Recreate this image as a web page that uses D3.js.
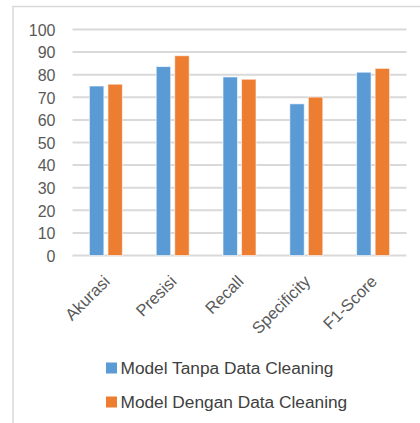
<!DOCTYPE html>
<html>
<head>
<meta charset="utf-8">
<script src="https://cdn.jsdelivr.net/npm/d3@7"></script>
<style>
  html, body { margin: 0; padding: 0; background: #ffffff; }
  svg { display: block; }
</style>
</head>
<body>
<svg id="chart" width="420" height="423"></svg>
<script>
// Metric names along the x axis
const categories = ["Akurasi", "Presisi", "Recall", "Specificity", "F1-Score"];
// Series names and values (percent)
const seriesNames = ["Model Tanpa Data Cleaning", "Model Dengan Data Cleaning"];
const tanpaCleaning = [75.0, 83.6, 79.0, 67.1, 81.1];
const denganCleaning = [75.8, 88.4, 78.0, 70.1, 82.8];
const seriesColors = ["#5b9bd5", "#ed7d31"];
// y axis ticks
const yTicks = [0, 10, 20, 30, 40, 50, 60, 70, 80, 90, 100];

const FONT = "'Liberation Sans', 'DejaVu Sans', sans-serif";
const svg = d3.select("#chart");

// Chart frame (left and top edges)
svg.append("path")
  .attr("d", "M13,423 V6.5 H420")
  .attr("fill", "none")
  .attr("stroke", "#d9d9d9")
  .attr("stroke-width", 1.5);

const plot = { left: 72.5, right: 406.5, top: 29.5, bottom: 255.5 };

const x = d3.scaleBand()
  .domain(categories)
  .range([plot.left, plot.right]);

const x1 = d3.scaleBand()
  .domain(d3.range(seriesNames.length))
  .range([0, 33])
  .paddingInner(0.22);

const y = d3.scaleLinear()
  .domain([0, 100])
  .range([plot.bottom, plot.top]);

// Gridlines
svg.append("g")
  .selectAll("line")
  .data(yTicks)
  .join("line")
  .attr("x1", plot.left)
  .attr("x2", plot.right)
  .attr("y1", d => y(d))
  .attr("y2", d => y(d))
  .attr("stroke", "#d9d9d9")
  .attr("stroke-width", 2);

// y axis labels
const yAxis = d3.axisLeft(y).tickValues(yTicks).tickSize(0).tickPadding(0);
svg.append("g")
  .attr("transform", `translate(55.5,0)`)
  .call(yAxis)
  .call(g => g.select(".domain").remove())
  .call(g => g.selectAll("text")
    .attr("fill", "#595959")
    .attr("font-family", FONT)
    .attr("font-size", 16)
    .attr("dy", "0.36em"));

// Bars
const series = [tanpaCleaning, denganCleaning];
const groups = svg.append("g")
  .selectAll("g")
  .data(categories)
  .join("g")
  .attr("transform", c => `translate(${x(c) + x.bandwidth() / 2 - 16.5},0)`);

groups.selectAll("rect")
  .data((c, i) => series.map((s, k) => ({ k, v: s[i] })))
  .join("rect")
  .attr("x", d => x1(d.k))
  .attr("width", x1.bandwidth())
  .attr("y", d => y(d.v))
  .attr("height", d => y(0) - y(d.v))
  .attr("fill", d => seriesColors[d.k])
  .attr("stroke", "#ffffff")
  .attr("stroke-opacity", 0.6)
  .attr("stroke-width", 1);

// Category labels, rotated
svg.append("g")
  .selectAll("text")
  .data(categories)
  .join("text")
  .attr("transform", c => `translate(${x(c) + x.bandwidth() / 2 + 5},${plot.bottom + 27}) rotate(-45)`)
  .attr("text-anchor", "end")
  .attr("fill", "#595959")
  .attr("font-family", FONT)
  .attr("font-size", 16.5)
  .text(c => c);

// Legend
const legend = svg.append("g")
  .selectAll("g")
  .data(seriesNames)
  .join("g")
  .attr("transform", (d, i) => `translate(106,${362.5 + i * 34})`);

legend.append("rect")
  .attr("width", 11)
  .attr("height", 11)
  .attr("fill", (d, i) => seriesColors[i]);

legend.append("text")
  .attr("x", 14.5)
  .attr("y", 11.5)
  .attr("fill", "#404040")
  .attr("font-family", FONT)
  .attr("font-size", 17.3)
  .text(d => d);
</script>
</body>
</html>
